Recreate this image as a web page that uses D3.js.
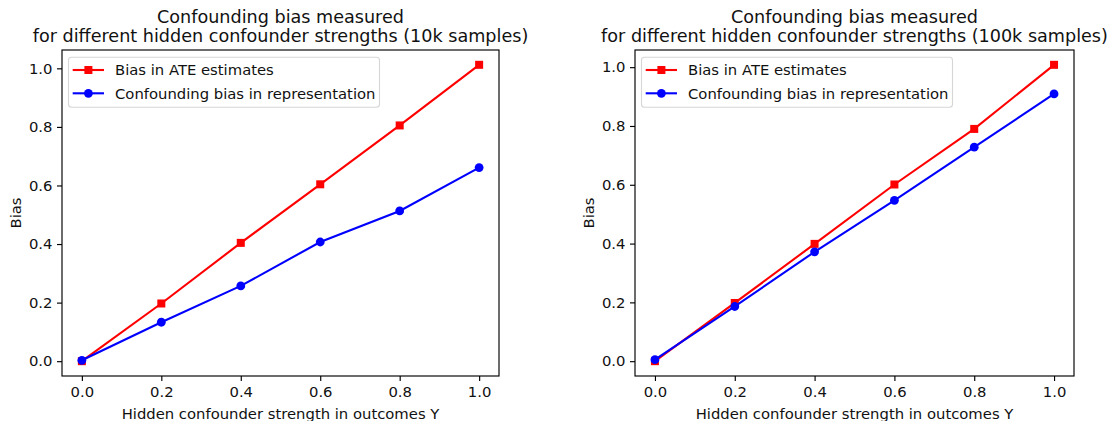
<!DOCTYPE html>
<html>
<head>
<meta charset="utf-8">
<script src="https://cdn.jsdelivr.net/npm/d3@7"></script>
<style>
  body { margin: 0; background: #fff; }
  svg { font-family: "DejaVu Sans", sans-serif; }
</style>
</head>
<body>
<svg width="1116" height="421"></svg>
<script>
// chart data
const strengths = [0, 0.2, 0.4, 0.6, 0.8, 1.0];
const ate10k = [0, 0.197, 0.404, 0.604, 0.805, 1.012];
const rep10k = [0.003, 0.133, 0.257, 0.407, 0.513, 0.661];
const ate100k = [0, 0.198, 0.399, 0.601, 0.79, 1.008];
const rep100k = [0.005, 0.186, 0.372, 0.547, 0.728, 0.909];
const xTicks = [0, 0.2, 0.4, 0.6, 0.8, 1.0];
const yTicks = [0, 0.2, 0.4, 0.6, 0.8, 1.0];
const seriesNames = ["Bias in ATE estimates", "Confounding bias in representation"];
const titles = [
  ["Confounding bias measured", "for different hidden confounder strengths (10k samples)"],
  ["Confounding bias measured", "for different hidden confounder strengths (100k samples)"]
];

var svg = d3.select("svg");

const top_ = 50, bottom_ = 376;
const tickLen = 5;
const fs = "14.8px";

function drawPanel(left, right, ate, rep, title) {
  const g = svg.append("g");

  const xMin = d3.min(strengths), xMax = d3.max(strengths);
  const xPad = (xMax - xMin) * 0.05;
  const x = d3.scaleLinear().domain([xMin - xPad, xMax + xPad]).range([left, right]);

  const yMin = d3.min(ate.concat(rep)), yMax = d3.max(ate.concat(rep));
  const yPad = (yMax - yMin) * 0.05;
  const y = d3.scaleLinear().domain([yMin - yPad, yMax + yPad]).range([bottom_, top_]);

  // axes
  const xAxis = g.append("g")
    .attr("transform", "translate(0," + bottom_ + ")")
    .call(d3.axisBottom(x).tickValues(xTicks).tickFormat(d3.format(".1f")).tickSize(tickLen).tickPadding(5).tickSizeOuter(0));
  const yAxis = g.append("g")
    .attr("transform", "translate(" + left + ",0)")
    .call(d3.axisLeft(y).tickValues(yTicks).tickFormat(d3.format(".1f")).tickSize(tickLen).tickPadding(4.5).tickSizeOuter(0));
  [xAxis, yAxis].forEach(function (a) {
    a.select(".domain").remove();
    a.selectAll("line").attr("stroke", "#000").attr("stroke-width", 1.15);
    a.selectAll("text").attr("fill", "#111").style("font-size", fs).style("font-family", "DejaVu Sans");
  });

  // frame
  g.append("rect")
    .attr("x", left).attr("y", top_)
    .attr("width", right - left).attr("height", bottom_ - top_)
    .attr("fill", "none").attr("stroke", "#000").attr("stroke-width", 1.15);

  const line = d3.line()
    .x(function (d, i) { return x(strengths[i]); })
    .y(function (d) { return y(d); });

  // red line with squares
  g.append("path").datum(ate)
    .attr("d", line).attr("fill", "none").attr("stroke", "#ff0000").attr("stroke-width", 2.1);
  g.selectAll(".sq").data(ate).enter().append("rect")
    .attr("x", function (d, i) { return x(strengths[i]) - 4; })
    .attr("y", function (d) { return y(d) - 4; })
    .attr("width", 8).attr("height", 8)
    .attr("fill", "#ff0000");

  // blue line with circles
  g.append("path").datum(rep)
    .attr("d", line).attr("fill", "none").attr("stroke", "#0000ff").attr("stroke-width", 2.1);
  g.selectAll(".dot").data(rep).enter().append("circle")
    .attr("cx", function (d, i) { return x(strengths[i]); })
    .attr("cy", function (d) { return y(d); })
    .attr("r", 4.4)
    .attr("fill", "#0000ff");

  // title
  const cx = (left + right) / 2;
  g.append("text").attr("x", cx).attr("y", 22.7).attr("text-anchor", "middle")
    .style("font-size", "17.6px").attr("fill", "#111").text(title[0]);
  g.append("text").attr("x", cx).attr("y", 41.5).attr("text-anchor", "middle")
    .style("font-size", "17.6px").attr("fill", "#111").text(title[1]);

  // axis labels
  g.append("text").attr("x", cx).attr("y", 418.5).attr("text-anchor", "middle")
    .style("font-size", fs).attr("fill", "#111").text("Hidden confounder strength in outcomes Y");
  g.append("text")
    .attr("transform", "translate(" + (left - 41) + "," + ((top_ + bottom_) / 2) + ") rotate(-90)")
    .attr("text-anchor", "middle")
    .style("font-size", fs).attr("fill", "#111").text("Bias");

  // legend
  const lx = left + 6.5, ly = top_ + 7.3;
  g.append("rect")
    .attr("x", lx).attr("y", ly).attr("width", 311).attr("height", 50).attr("rx", 3)
    .attr("fill", "#fff").attr("fill-opacity", 0.8)
    .attr("stroke", "#d6d6d6").attr("stroke-width", 1.1);
  const colors = ["#ff0000", "#0000ff"];
  seriesNames.forEach(function (name, i) {
    const rowY = ly + 12.7 + i * 23.3;
    g.append("line")
      .attr("x1", lx + 4.2).attr("x2", lx + 35.5)
      .attr("y1", rowY).attr("y2", rowY)
      .attr("stroke", colors[i]).attr("stroke-width", 2.1);
    if (i === 0) {
      g.append("rect").attr("x", lx + 19.9 - 4).attr("y", rowY - 4)
        .attr("width", 8).attr("height", 8).attr("fill", colors[i]);
    } else {
      g.append("circle").attr("cx", lx + 19.9).attr("cy", rowY).attr("r", 4.4).attr("fill", colors[i]);
    }
    g.append("text").attr("x", lx + 46.5).attr("y", rowY + 5.4)
      .style("font-size", fs).attr("fill", "#111").text(name);
  });
}

drawPanel(62, 499, ate10k, rep10k, titles[0]);
drawPanel(635, 1074, ate100k, rep100k, titles[1]);
</script>
</body>
</html>
